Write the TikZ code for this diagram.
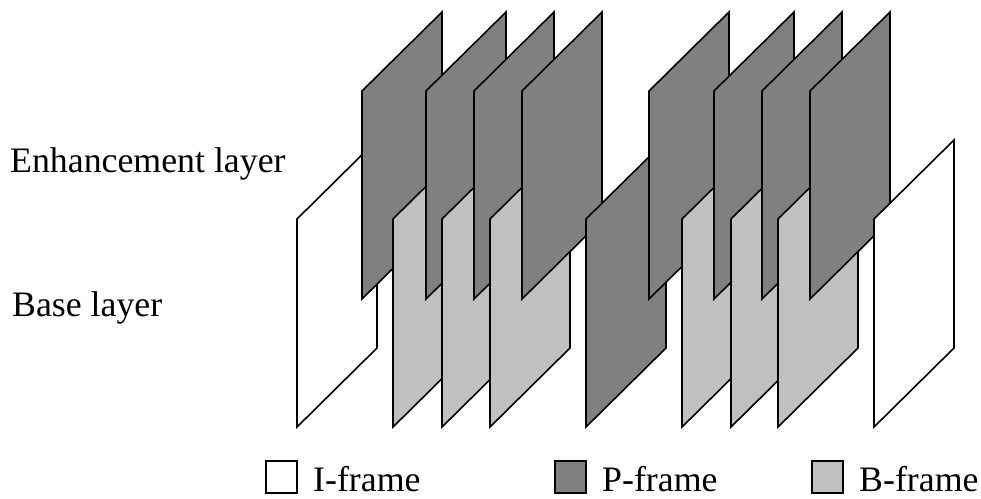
\documentclass[tikz,border=0pt]{standalone}
\usepackage{fontspec}
\setmainfont{Liberation Serif}
\definecolor{pgray}{RGB}{128,128,128}
\definecolor{bgray}{RGB}{192,192,192}
\begin{document}
\begin{tikzpicture}[x=1pt,y=-1pt,
  outline/.style={draw=black,line width=1.6pt,line join=miter},
  iframe/.style={outline,fill=white},
  pframe/.style={outline,fill=pgray},
  bframe/.style={outline,fill=bgray},
  label/.style={anchor=base west,inner sep=0pt,font=\fontsize{35.8}{40}\selectfont},
  key/.style={draw=black,line width=1.6pt,minimum width=31pt,minimum height=32pt,inner sep=0pt,anchor=north west}]
\useasboundingbox (0,0) rectangle (981,498);
% frames, back to front: left edge x / style / top of left edge
% (top 91 = enhancement layer, top 219 = base layer)
\foreach \x/\s/\t in {297/iframe/219,362/pframe/91,393/bframe/219,426/pframe/91,
  442/bframe/219,474/pframe/91,490/bframe/219,522/pframe/91,586/pframe/219,
  649/pframe/91,682/bframe/219,714/pframe/91,731/bframe/219,762/pframe/91,
  778/bframe/219,810/pframe/91,874/iframe/219}{
  \path[\s] (\x,\t) -- ++(0,208) -- ++(80,-79) -- ++(0,-208) -- cycle;
}
% layer names
\node[label] (enh) at (10,172) {Enhancement layer};
\node[label] (base) at (12,316) {Base layer};
% legend
\node[key,fill=white] (ikey) at (265,460) {};
\node[label] (itext) at (313,491) {I-frame};
\node[key,fill=pgray] (pkey) at (554,460) {};
\node[label] (ptext) at (602,491) {P-frame};
\node[key,fill=bgray] (bkey) at (811,460) {};
\node[label] (btext) at (859,491) {B-frame};
\end{tikzpicture}
\end{document}
